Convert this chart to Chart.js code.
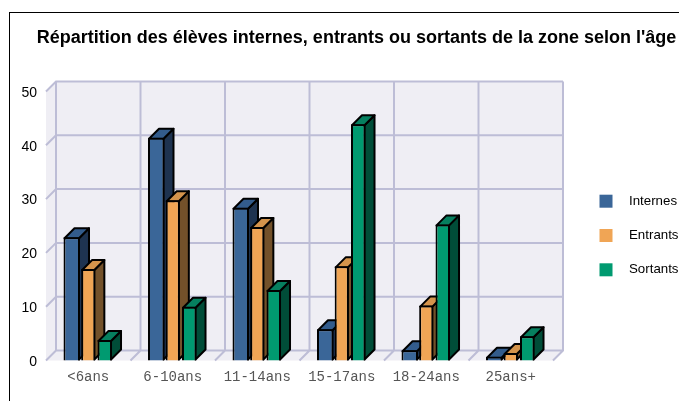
<!DOCTYPE html>
<html>
<head>
<meta charset="utf-8">
<title>Répartition des élèves</title>
<script src="https://cdn.jsdelivr.net/npm/chart.js@4"></script>
<style>
  html, body { margin: 0; padding: 0; background: #fff; overflow: hidden; }
  #wrap { position: relative; width: 679px; height: 401px; }
  #frame { position: absolute; left: 9px; top: 12px; right: 0; bottom: 0; border-left: 1px solid #000; border-top: 1px solid #000; }
  canvas { position: absolute; left: 0; top: 0; }
</style>
</head>
<body>
<div id="wrap">
  <div id="frame"></div>
  <canvas id="chart" width="679" height="401"></canvas>
</div>
<script>
const categories = ['<6ans', '6-10ans', '11-14ans', '15-17ans', '18-24ans', '25ans+'];
const internes = [22.9, 41.4, 28.4, 5.8, 1.9, 0.7];
const entrants = [17, 29.8, 24.8, 17.5, 10.2, 1.4];
const sortants = [3.8, 10, 13.1, 43.9, 25.3, 4.5];
const seriesNames = ['Internes', 'Entrants', 'Sortants'];
const yTicks = [0, 10, 20, 30, 40, 50];

const frontColors = ['#3a6698', '#f0a555', '#009a70'];
const topColors = ['#335c8c', '#d4944c', '#067f5f'];
const sideColors = ['#1e3350', '#73512a', '#004d38'];
// the first series is a little wider than the other two in the original
const barRatios = [1, 0.86, 0.88];

const depthX = 10;
const depthY = 10;
const wallFill = '#efeef4';
const wallLine = '#bdbdd6';

function drawBarDepth(ctx, bar, i) {
    const l = bar.x - bar.width / 2;
    const r = bar.x + bar.width / 2;
    ctx.fillStyle = sideColors[i];
    ctx.beginPath();
    ctx.moveTo(r - 1, bar.y + 1);
    ctx.lineTo(r - 1 + depthX, bar.y + 1 - depthY);
    ctx.lineTo(r - 1 + depthX, bar.base - 1 - depthY);
    ctx.lineTo(r - 1, bar.base - 1);
    ctx.closePath();
    ctx.fill();
    ctx.stroke();
    ctx.fillStyle = topColors[i];
    ctx.beginPath();
    ctx.moveTo(l + 1, bar.y + 1);
    ctx.lineTo(l + 1 + depthX, bar.y + 1 - depthY);
    ctx.lineTo(r - 1 + depthX, bar.y + 1 - depthY);
    ctx.lineTo(r - 1, bar.y + 1);
    ctx.closePath();
    ctx.fill();
    ctx.stroke();
}

const depthPlugin = {
    id: 'depth',
    // the title spans more than the plot, so it is widened after layout
    afterLayout(chart) {
        chart.titleBlock.left = 34;
        chart.titleBlock.right = 679;
    },
    // back wall, left wall and floor, placed from the scales
    beforeDatasetsDraw(chart) {
        const { ctx, scales: { y }, chartArea: a } = chart;
        ctx.save();
        ctx.fillStyle = wallFill;
        ctx.beginPath();
        ctx.moveTo(a.left, a.top);
        ctx.lineTo(a.left + depthX, a.top - depthY);
        ctx.lineTo(a.right + depthX, a.top - depthY);
        ctx.lineTo(a.right + depthX, a.bottom - depthY);
        ctx.lineTo(a.right, a.bottom);
        ctx.lineTo(a.left, a.bottom);
        ctx.closePath();
        ctx.fill();

        ctx.strokeStyle = wallLine;
        ctx.lineWidth = 2;
        ctx.beginPath();
        yTicks.forEach(v => {
            const py = y.getPixelForValue(v);
            ctx.moveTo(a.left, py);
            ctx.lineTo(a.left + depthX, py - depthY);
            ctx.lineTo(a.right + depthX, py - depthY);
        });
        const step = (a.right - a.left) / categories.length;
        for (let i = 0; i <= categories.length; i++) {
            const px = a.left + step * i;
            ctx.moveTo(px, a.bottom);
            ctx.lineTo(px + depthX, a.bottom - depthY);
            ctx.lineTo(px + depthX, a.top - depthY);
        }
        ctx.stroke();
        ctx.restore();
    },
    // Chart.js paints the first dataset last, here the first one has to go under the others
    beforeDatasetDraw() {
        return false;
    },
    afterDatasetsDraw(chart) {
        const { ctx } = chart;
        chart.data.datasets.forEach((ds, i) => {
            chart.getDatasetMeta(i).data.forEach(bar => {
                ctx.save();
                ctx.strokeStyle = '#000';
                ctx.lineWidth = 2;
                ctx.lineJoin = 'round';
                drawBarDepth(ctx, bar, i);
                ctx.restore();
                bar.draw(ctx);
            });
        });
    },
    // legend keeps the wide gap between swatch and text
    afterDraw(chart) {
        const { ctx } = chart;
        ctx.save();
        ctx.font = '13.3px "Liberation Sans"';
        ctx.textBaseline = 'middle';
        chart.data.datasets.forEach((ds, i) => {
            const cy = 201.2 + i * 34.3;
            ctx.fillStyle = frontColors[i];
            ctx.fillRect(599.5, cy - 6.5, 13, 13);
            ctx.fillStyle = '#000';
            ctx.fillText(ds.label, 629, cy);
        });
        ctx.restore();
    }
};

const seriesValues = [internes, entrants, sortants];

new Chart(document.getElementById('chart').getContext('2d'), {
    type: 'bar',
    data: {
        labels: categories,
        datasets: seriesNames.map((name, i) => ({
            label: name,
            data: seriesValues[i],
            backgroundColor: frontColors[i],
            borderColor: '#000',
            borderWidth: 2,
            inflateAmount: 0,
            categoryPercentage: 0.586,
            barPercentage: barRatios[i]
        }))
    },
    options: {
        responsive: false,
        animation: false,
        layout: { padding: { left: 0, right: 126, top: 0, bottom: 0 } },
        scales: {
            x: {
                grid: { display: false },
                border: { display: false },
                ticks: { color: '#555', font: { family: '"Liberation Mono"', size: 14 }, padding: 0, maxRotation: 0, autoSkip: false },
                afterFit(scale) { scale.height = 40.5; }
            },
            y: {
                min: 0,
                max: 50,
                grid: { display: false, drawTicks: false },
                border: { display: false },
                ticks: { stepSize: 10, color: '#000', font: { family: '"Liberation Sans"', size: 14 }, padding: 9, labelOffset: 1.5 },
                afterFit(scale) { scale.width = 46; }
            }
        },
        plugins: {
            legend: { display: false },
            tooltip: { enabled: false },
            title: {
                display: true,
                text: "Répartition des élèves internes, entrants ou sortants de la zone selon l'âge",
                color: '#000',
                font: { family: 'Arial, "Liberation Sans"', size: 18, weight: 'bold' },
                padding: { top: 27, bottom: 42.9 }
            }
        }
    },
    plugins: [depthPlugin]
});
</script>
</body>
</html>
